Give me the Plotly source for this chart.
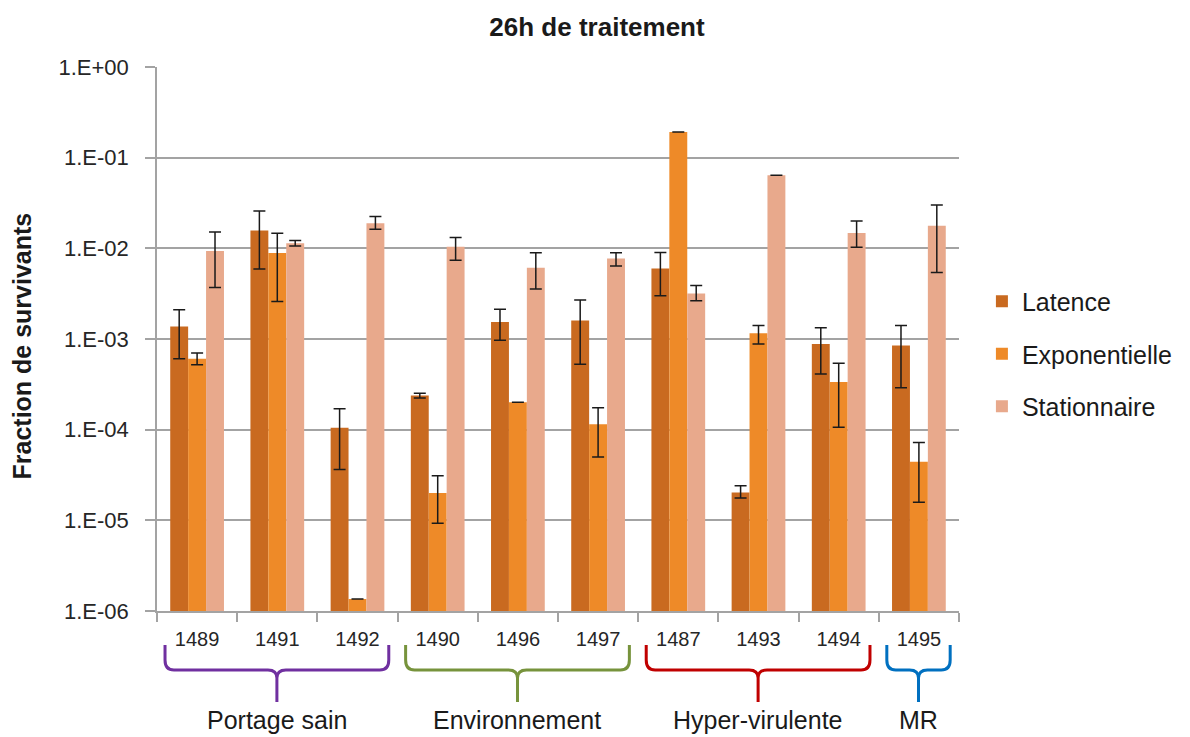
import plotly.graph_objects as go

categories = ["1489", "1491", "1492", "1490", "1496", "1497", "1487", "1493", "1494", "1495"]
series_names = ["Latence", "Exponentielle", "Stationnaire"]

latence = [1.37e-3, 1.57e-2, 1.05e-4, 2.38e-4, 1.54e-3, 1.60e-3, 6.0e-3, 2.03e-5, 8.8e-4, 8.5e-4]
latence_hi = [2.1e-3, 2.58e-2, 1.7e-4, 2.52e-4, 2.13e-3, 2.7e-3, 9.0e-3, 2.4e-5, 1.33e-3, 1.41e-3]
latence_lo = [6.05e-4, 5.9e-3, 3.63e-5, 2.24e-4, 9.7e-4, 5.25e-4, 3.0e-3, 1.76e-5, 4.1e-4, 2.9e-4]

expo = [6.05e-4, 8.9e-3, 1.36e-6, 2.0e-5, 2.0e-4, 1.15e-4, 0.192, 1.16e-3, 3.35e-4, 4.43e-5]
expo_hi = [7.0e-4, 1.47e-2, 1.36e-6, 3.1e-5, 2.0e-4, 1.75e-4, 0.192, 1.41e-3, 5.4e-4, 7.2e-5]
expo_lo = [5.2e-4, 2.6e-3, 1.36e-6, 9.3e-6, 2.0e-4, 5.0e-5, 0.192, 8.8e-4, 1.06e-4, 1.58e-5]

stat = [9.37e-3, 1.14e-2, 1.89e-2, 1.04e-2, 6.1e-3, 7.7e-3, 3.18e-3, 6.38e-2, 1.48e-2, 1.77e-2]
stat_hi = [1.51e-2, 1.22e-2, 2.24e-2, 1.32e-2, 8.95e-3, 8.95e-3, 3.9e-3, 6.38e-2, 2.0e-2, 3.0e-2]
stat_lo = [3.7e-3, 1.06e-2, 1.62e-2, 7.4e-3, 3.55e-3, 6.4e-3, 2.64e-3, 6.38e-2, 1.03e-2, 5.4e-3]

y_tickvals = [1e0, 1e-1, 1e-2, 1e-3, 1e-4, 1e-5, 1e-6]
y_ticktext = ["1.E+00", "1.E-01", "1.E-02", "1.E-03", "1.E-04", "1.E-05", "1.E-06"]

groups = ["Portage sain", "Environnement", "Hyper-virulente", "MR"]
group_start = [0, 3, 6, 9]
group_end = [2, 5, 8, 9]
group_colors = ["#7030a0", "#77933c", "#c00000", "#0070c0"]

colors = ["#c96a20", "#ee8a28", "#e8a98c"]
FONT = "Liberation Sans, Arial, sans-serif"
TXT = "#1a1a1a"

# page geometry (browser body has an 8px margin)
OFF = 8
W, H = 1190 - OFF, 737 - OFF
PL, PR, PT, PB = 157, 962, 67, 611  # plot area in page pixels

fig = go.Figure()
for name, vals, hi, lo, col in [
    (series_names[0], latence, latence_hi, latence_lo, colors[0]),
    (series_names[1], expo, expo_hi, expo_lo, colors[1]),
    (series_names[2], stat, stat_hi, stat_lo, colors[2]),
]:
    fig.add_trace(go.Bar(
        name=name, x=categories, y=vals, marker=dict(color=col, line=dict(width=0)),
        legendgroup=name,
        error_y=dict(type="data", symmetric=False,
                     array=[h - v for h, v in zip(hi, vals)],
                     arrayminus=[v - l for v, l in zip(vals, lo)],
                     color="#1a1a1a", thickness=1.5, width=6),
    ))

n = len(categories)

def xp_idx(idx):
    return (idx + 0.5) / n

def xp(px):
    return (px - PL) / (PR - PL)

def yp(py):
    return (PB - py) / (PB - PT)

shapes = []
annotations = []
for g, s, e, c in zip(groups, group_start, group_end, group_colors):
    x0 = xp_idx(s - 0.40)
    x1 = xp_idx(e + 0.39)
    xc = (x0 + x1) / 2
    dx = 9 / (PR - PL)
    ytop, ym, yh, yk, ytip = yp(645), yp(660), yp(670), yp(678), yp(702)
    path = (f"M {x0},{ytop} L {x0},{ym} Q {x0},{yh} {x0+dx},{yh} "
            f"L {xc-dx},{yh} Q {xc},{yh} {xc},{yk} L {xc},{ytip} "
            f"M {xc},{yk} Q {xc},{yh} {xc+dx},{yh} "
            f"L {x1-dx},{yh} Q {x1},{yh} {x1},{ym} L {x1},{ytop}")
    shapes.append(dict(type="path", xref="paper", yref="paper", path=path,
                       line=dict(color=c, width=3)))
    annotations.append(dict(text=g, xref="paper", yref="paper", x=xc, y=yp(720),
                            showarrow=False, font=dict(family=FONT, size=25, color=TXT),
                            xanchor="center", yanchor="middle"))

annotations.append(dict(text="<b>Fraction de survivants</b>", xref="paper", yref="paper",
                        x=xp(21), y=yp(346), textangle=-90, showarrow=False,
                        xanchor="center", yanchor="middle",
                        font=dict(family=FONT, size=25, color=TXT)))

fig.update_layout(
    width=W, height=H,
    margin=dict(l=PL - OFF, r=W - (PR - OFF), t=PT - OFF, b=H - (PB - OFF)),
    paper_bgcolor="white", plot_bgcolor="white",
    barmode="group", bargap=0.33, bargroupgap=0,
    title=dict(text="<b>26h de traitement</b>", xref="container", x=(597 - OFF) / W,
               xanchor="center", y=1 - (27 - OFF) / H, yanchor="middle",
               font=dict(family=FONT, size=26, color=TXT)),
    font=dict(family=FONT, color=TXT),
    legend=dict(x=xp(985), y=yp(354), xanchor="left", yanchor="middle",
                font=dict(family=FONT, size=25, color=TXT),
                traceorder="grouped", tracegroupgap=17, itemwidth=30,
                bgcolor="rgba(0,0,0,0)"),
    shapes=shapes, annotations=annotations,
)
fig.update_yaxes(type="log", range=[-6, 0], tickvals=y_tickvals, ticktext=y_ticktext,
                 showgrid=True, gridcolor="#a3a3a3", gridwidth=1.5,
                 showline=True, linecolor="#a3a3a3", linewidth=1.5,
                 ticks="outside", ticklen=10, tickcolor="#a3a3a3", tickwidth=1.5,
                 ticklabelstandoff=12,
                 tickfont=dict(family=FONT, size=22, color="#262626"),
                 zeroline=False)
fig.update_xaxes(type="category", showline=True, linecolor="#a3a3a3", linewidth=1.5,
                 ticks="outside", tickson="boundaries", ticklen=9, tickcolor="#a3a3a3",
                 tickwidth=1.5, ticklabelstandoff=9,
                 tickfont=dict(family=FONT, size=20, color="#262626"), showgrid=False)

fig.write_html("out.html")
